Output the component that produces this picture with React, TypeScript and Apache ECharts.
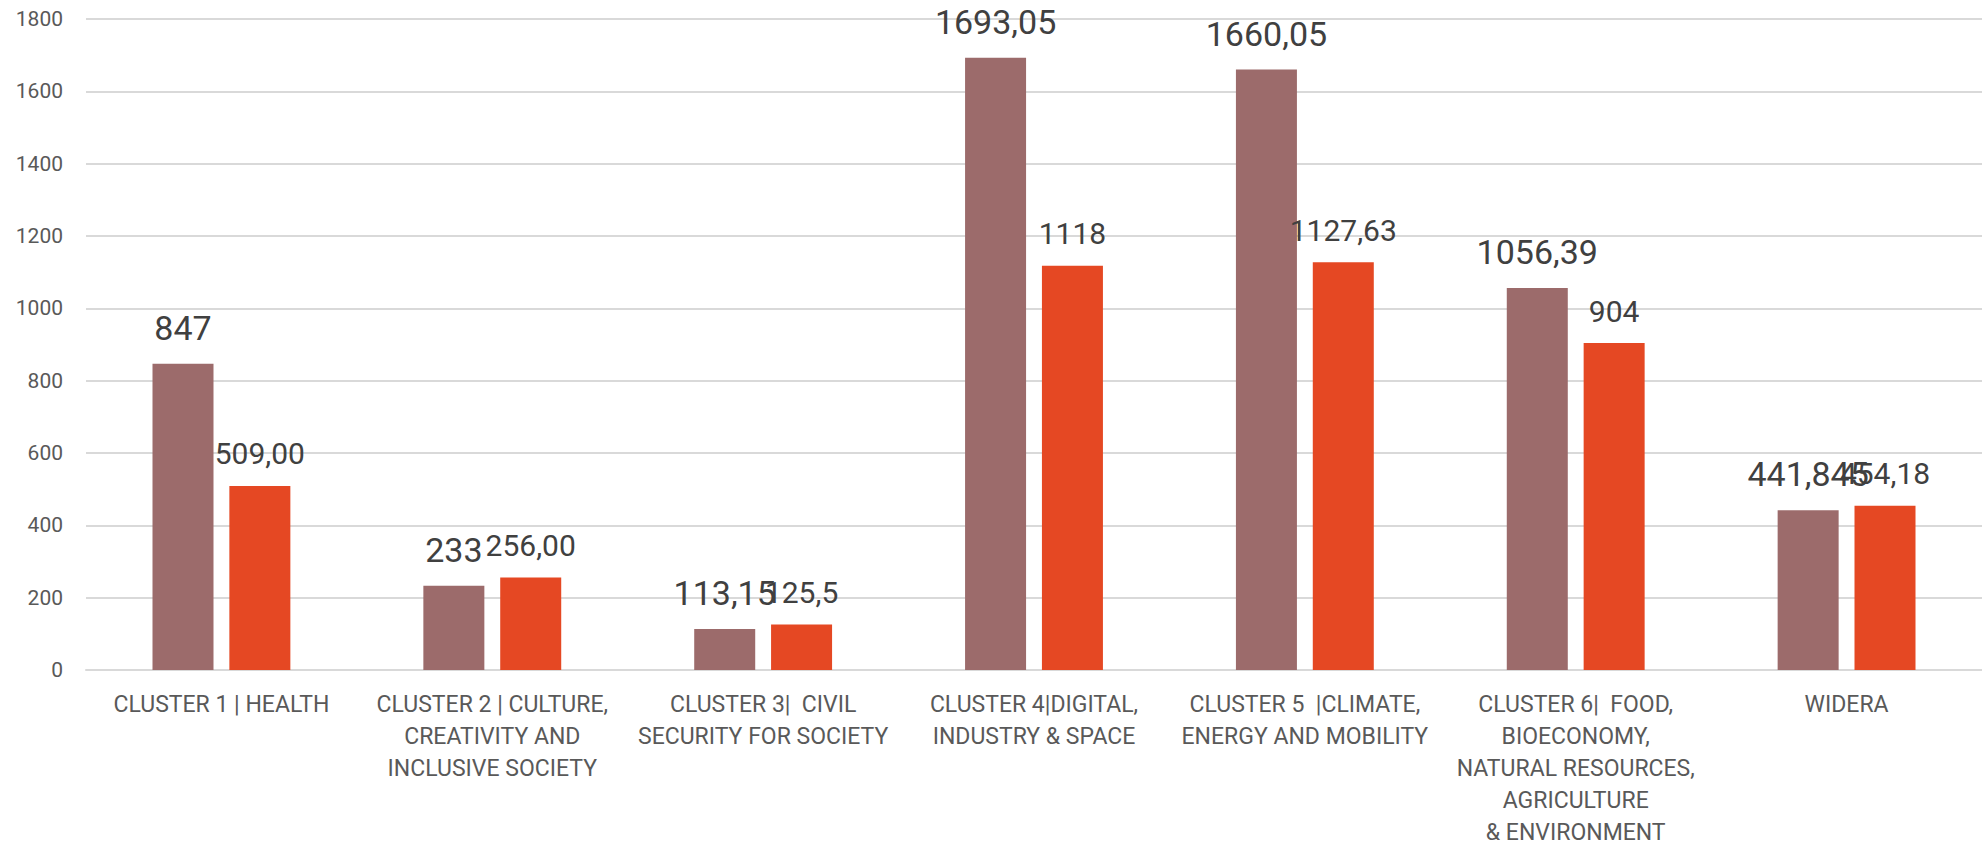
import React, { useEffect, useRef } from "react";
import * as echarts from "echarts";

const categories = [
  "CLUSTER 1 | HEALTH",
  "CLUSTER 2 | CULTURE,\nCREATIVITY AND\nINCLUSIVE SOCIETY",
  "CLUSTER 3|  CIVIL\nSECURITY FOR SOCIETY",
  "CLUSTER 4|DIGITAL,\nINDUSTRY & SPACE",
  "CLUSTER 5  |CLIMATE,\nENERGY AND MOBILITY",
  "CLUSTER 6|  FOOD,\nBIOECONOMY,\nNATURAL RESOURCES,\nAGRICULTURE\n& ENVIRONMENT",
  "WIDERA",
];

const seriesA = [847, 233, 113.15, 1693.05, 1660.05, 1056.39, 441.845];
const seriesALabels = ["847", "233", "113,15", "1693,05", "1660,05", "1056,39", "441,845"];

const seriesB = [509, 256, 125.5, 1118, 1127.63, 904, 454.18];
const seriesBLabels = ["509,00", "256,00", "125,5", "1118", "1127,63", "904", "454,18"];

const FONT = "Roboto, 'Open Sans', sans-serif";

export default function App() {
  const ref = useRef<HTMLDivElement>(null);
  useEffect(() => {
    if (!ref.current) return;
    const chart = echarts.init(ref.current, null, { renderer: "svg" });
    chart.setOption({
      animation: false,
      backgroundColor: "#ffffff",
      textStyle: { fontFamily: FONT },
      grid: { left: 86, right: 0, top: 19, bottom: 183, containLabel: false },
      xAxis: {
        type: "category",
        data: categories,
        axisLine: { show: true, lineStyle: { color: "#D9D9D9", width: 2 } },
        axisTick: { show: false },
        axisLabel: {
          interval: 0,
          color: "#595959",
          fontSize: 23,
          lineHeight: 32,
          margin: 18,
          fontFamily: FONT,
          align: "center",
        },
      },
      yAxis: {
        type: "value",
        min: 0,
        max: 1800,
        interval: 200,
        axisLine: { show: false },
        axisTick: { show: false },
        splitLine: { lineStyle: { color: "#D9D9D9", width: 2 } },
        axisLabel: {
          color: "#595959",
          fontSize: 21,
          margin: 23,
          fontFamily: FONT,
          formatter: (v: number) => String(v),
        },
      },
      series: [
        {
          type: "bar",
          data: seriesA,
          barWidth: 61,
          barGap: "26%",
          itemStyle: { color: "#9C6B6B" },
          label: {
            show: true,
            position: "top",
            distance: 19,
            fontSize: 34,
            lineHeight: 34,
            color: "#404040",
            fontFamily: FONT,
            formatter: (p: any) => seriesALabels[p.dataIndex],
          },
        },
        {
          type: "bar",
          data: seriesB,
          barWidth: 61,
          barGap: "26%",
          itemStyle: { color: "#E54823" },
          label: {
            show: true,
            position: "top",
            distance: 17,
            fontSize: 30,
            lineHeight: 30,
            color: "#404040",
            fontFamily: FONT,
            formatter: (p: any) => seriesBLabels[p.dataIndex],
          },
        },
      ],
    });
    return () => chart.dispose();
  }, []);
  return (
    <div
      ref={ref}
      style={{ position: "absolute", left: 0, top: 0, width: 1982, height: 853, background: "#fff" }}
    />
  );
}
